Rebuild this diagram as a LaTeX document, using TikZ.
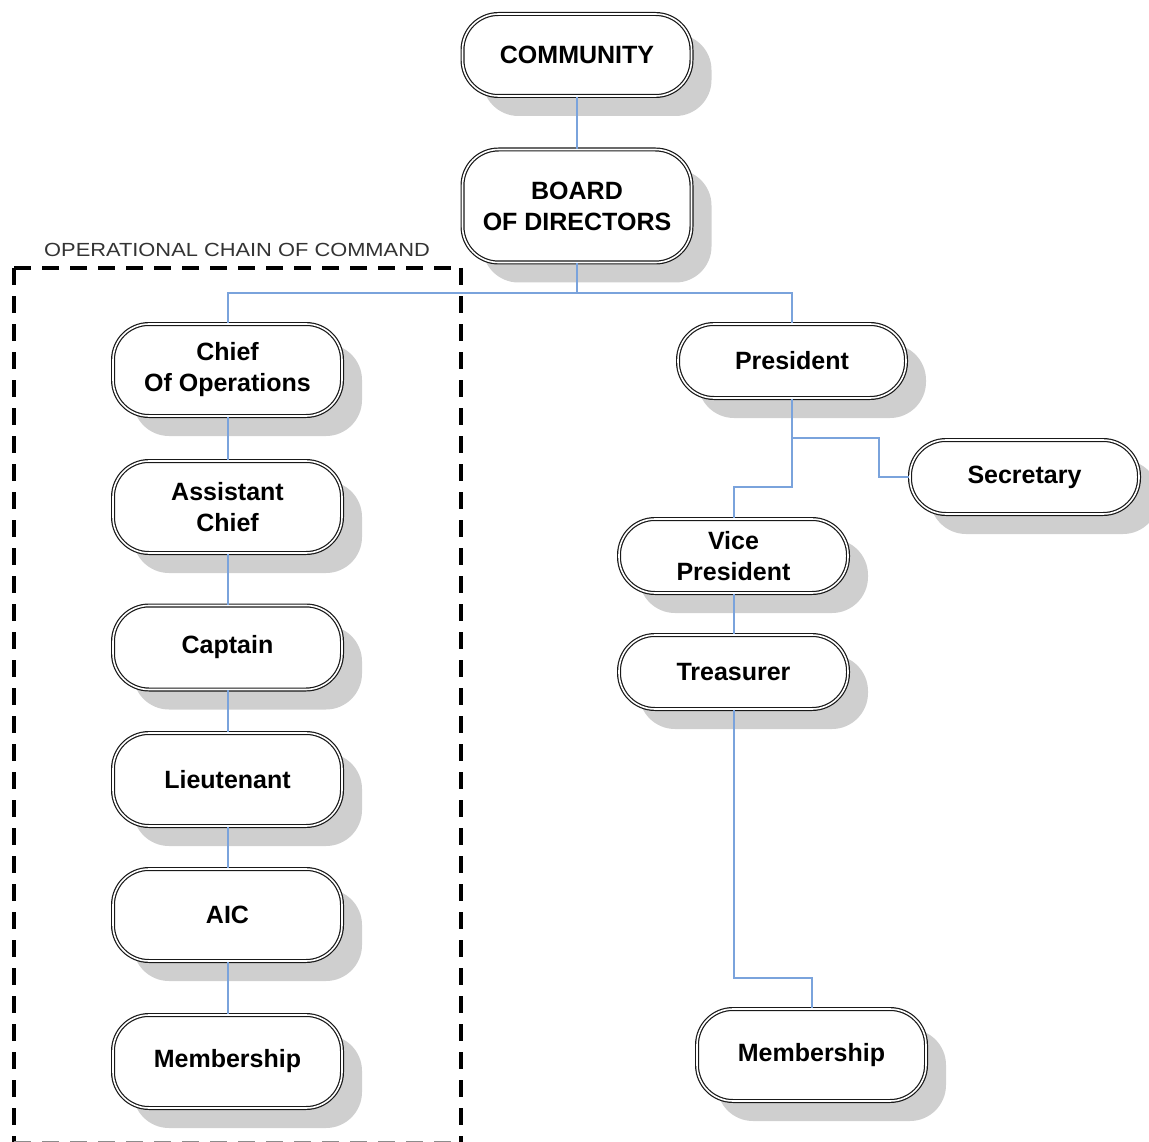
\documentclass[tikz,border=0pt]{standalone}
\usepackage{fontspec}
\setmainfont{Liberation Sans}
\usetikzlibrary{shadows}
\begin{document}
\begin{tikzpicture}[x=1pt,y=-1pt,
  orgbox/.style={draw=black!90, double=white, double distance=1.6pt, line width=1.2pt,
    fill=white, rounded corners=36pt, inner sep=0pt, minimum width=229pt, align=center,
    font=\fontsize{25}{31}\selectfont\bfseries, text=black,
    drop shadow={shadow xshift=20pt, shadow yshift=-20pt, fill=black!19, opacity=1}},
  link/.style={line width=2pt, color={rgb,255:red,122;green,163;blue,220}},
  dashbox/.style={draw=black, line width=4pt, dash pattern=on 17pt off 11pt},
  lbl/.style={font=\fontsize{19}{22}\selectfont, text=black!80, inner sep=0pt}
]
\useasboundingbox (0,0) rectangle (1149,1142);

% nodes
\node[orgbox, minimum height=82pt]  (comm)  at (577,55)    {COMMUNITY};
\node[orgbox, minimum height=113pt] (board) at (577,206)   {BOARD\\OF DIRECTORS};
\node[orgbox, minimum height=92pt]  (chief) at (227.5,370) {Chief\\Of Operations};
\node[orgbox, minimum height=92pt]  (asst)  at (227.5,507) {Assistant\\Chief};
\node[orgbox, minimum height=84pt]  (capt)  at (227.5,647.5) {Captain};
\node[orgbox, minimum height=93pt]  (lieut) at (227.5,779.5) {Lieutenant};
\node[orgbox, minimum height=92pt]  (aic)   at (227.5,915) {AIC};
\node[orgbox, minimum height=93pt]  (meml)  at (227.5,1061.5) {Membership};
\node[orgbox, minimum height=74pt, minimum width=228pt] (pres) at (792,361) {President};
\node[orgbox, minimum height=74pt]  (sec)   at (1024.5,477) {Secretary};
\node[orgbox, minimum height=74pt]  (vp)    at (733.5,556) {Vice\\President};
\node[orgbox, minimum height=74pt]  (treas) at (733.5,672) {Treasurer};
\node[orgbox, minimum height=92pt]  (memr)  at (811.5,1055) {Membership};

% connectors
\coordinate (bus) at (577,293);
\coordinate (pj)  at (792,438);
\draw[link] (comm.south) -- (board.north);
\draw[link] (board.south) -- (bus);
\draw[link] (bus) -| (chief.north);
\draw[link] (bus) -| (pres.north);
\draw[link] (chief.south) -- (asst.north);
\draw[link] (asst.south) -- (capt.north);
\draw[link] (capt.south) -- (lieut.north);
\draw[link] (lieut.south) -- (aic.north);
\draw[link] (aic.south) -- (meml.north);
\draw[link] (pres.south) -- (pj) -- ++(87,0) |- (sec.west);
\draw[link] (pj) -- ++(0,49) -| (vp.north);
\draw[link] (vp.south) -- (treas.north);
\draw[link] (treas.south) -- ++(0,268) -| (memr.north);

% operational chain of command box
\node[lbl] (opl) at (237,250) {\scalebox{1.15}[1]{OPERATIONAL CHAIN OF COMMAND}};
\coordinate (bl) at (14,1143);
\coordinate (tl) at (14,268);
\coordinate (tr) at (461,268);
\coordinate (br) at (461,1143);
\draw[dashbox] (tl) -- (bl);
\draw[dashbox] (tl) -- (tr);
\draw[dashbox] (tr) -- (br);
\draw[dashbox, draw=black!45] (bl) -- (br);
\end{tikzpicture}
\end{document}
